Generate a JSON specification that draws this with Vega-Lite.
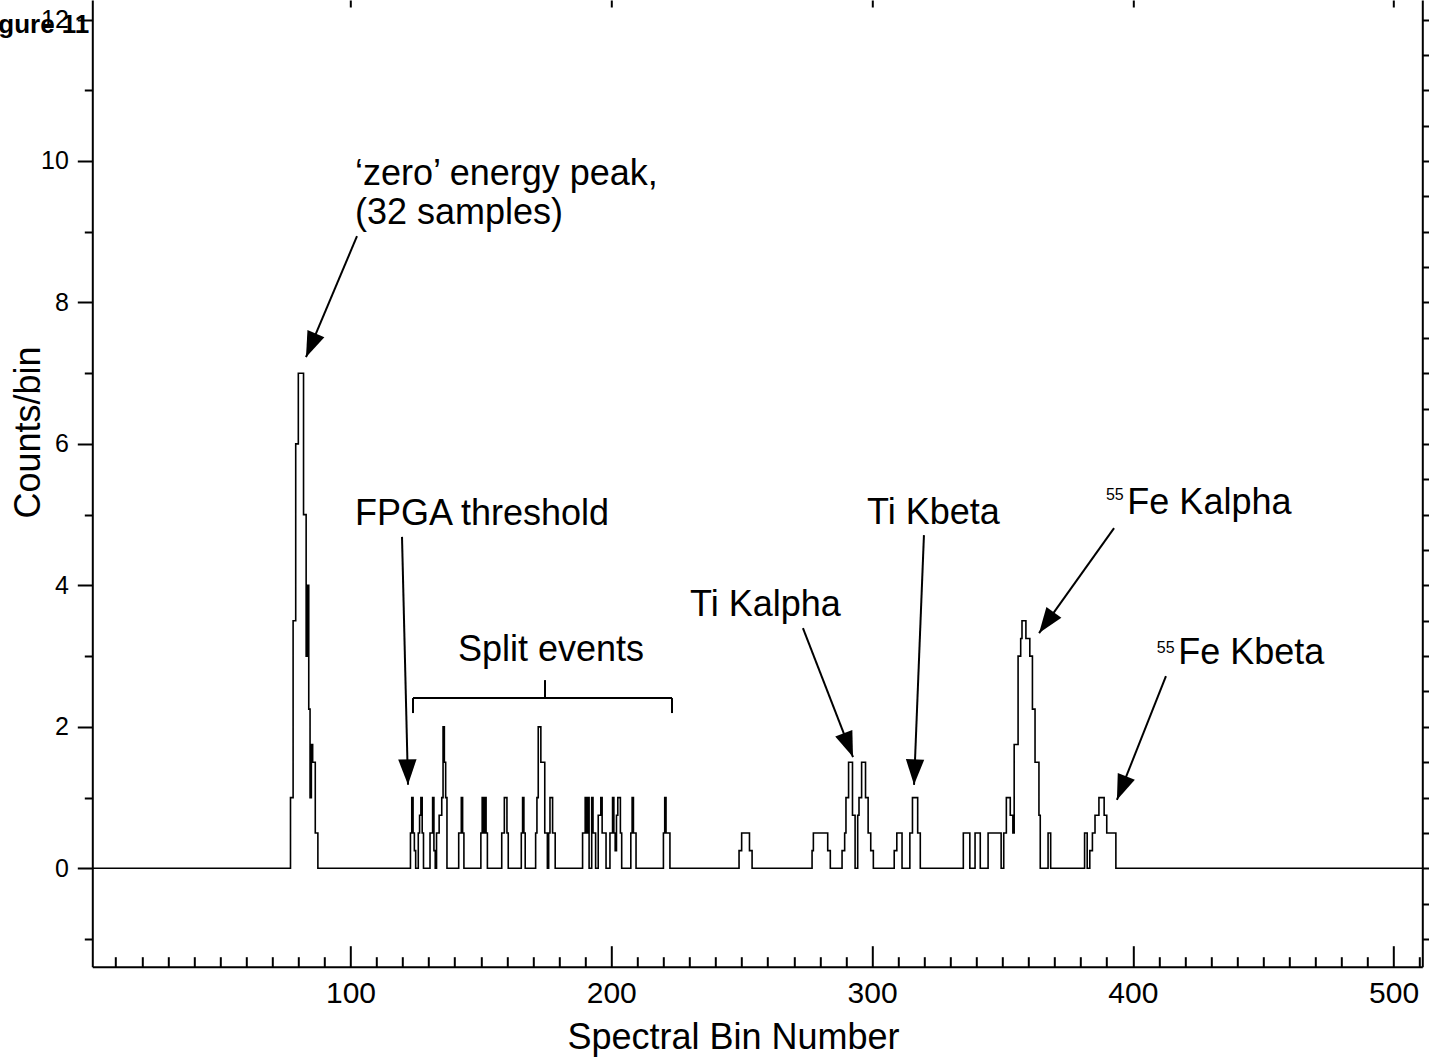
{
  "$schema": "https://vega.github.io/schema/vega-lite/v6.json",
  "width": 1330,
  "height": 966.7,
  "autosize": {"type": "none"},
  "padding": {"left": 92.3, "top": 0, "right": 6.7, "bottom": 94.3},
  "background": "white",
  "view": {"stroke": null},
  "config": {"font": "Liberation Sans", "axis": {"labelFont": "Liberation Sans", "titleFont": "Liberation Sans", "labelColor": "black", "titleColor": "black", "tickColor": "black", "domainColor": "black", "grid": false, "labelOverlap": false, "labelFlush": false, "labelBound": false, "tickWidth": 2, "domainWidth": 2}},
  "datasets": {
    "spectrum": [
      {"bin": 1, "counts": 0},
      {"bin": 77, "counts": 1}, {"bin": 78, "counts": 3.5}, {"bin": 79, "counts": 6}, {"bin": 80, "counts": 7}, {"bin": 82, "counts": 5}, {"bin": 83, "counts": 3}, {"bin": 83.5, "counts": 4}, {"bin": 84, "counts": 2.25}, {"bin": 84.5, "counts": 1}, {"bin": 85, "counts": 1.75}, {"bin": 85.5, "counts": 1.5}, {"bin": 86.5, "counts": 0.5}, {"bin": 87.5, "counts": 0},
      {"bin": 123, "counts": 0.5}, {"bin": 123.5, "counts": 1}, {"bin": 124, "counts": 0.5}, {"bin": 124.5, "counts": 0.25}, {"bin": 125, "counts": 0},
      {"bin": 126, "counts": 0.5}, {"bin": 126.5, "counts": 0.75}, {"bin": 127, "counts": 1}, {"bin": 127.5, "counts": 0.5}, {"bin": 128, "counts": 0},
      {"bin": 130.5, "counts": 0.5}, {"bin": 131.5, "counts": 1}, {"bin": 132, "counts": 0.25}, {"bin": 132.5, "counts": 0},
      {"bin": 133, "counts": 0.5}, {"bin": 134, "counts": 0.75}, {"bin": 135, "counts": 1}, {"bin": 135.5, "counts": 2}, {"bin": 136, "counts": 1.5}, {"bin": 136.5, "counts": 1}, {"bin": 137, "counts": 0},
      {"bin": 141.5, "counts": 0.5}, {"bin": 142.5, "counts": 1}, {"bin": 143, "counts": 0.5}, {"bin": 143.5, "counts": 0},
      {"bin": 150, "counts": 0.5}, {"bin": 150.5, "counts": 1}, {"bin": 151, "counts": 0.5}, {"bin": 151.5, "counts": 1}, {"bin": 152, "counts": 0.5}, {"bin": 152.5, "counts": 0},
      {"bin": 158, "counts": 0.5}, {"bin": 159, "counts": 1}, {"bin": 160, "counts": 0.5}, {"bin": 160.5, "counts": 0},
      {"bin": 165.5, "counts": 0.5}, {"bin": 166, "counts": 1}, {"bin": 166.5, "counts": 0.5}, {"bin": 167, "counts": 0},
      {"bin": 171, "counts": 0.5}, {"bin": 171.5, "counts": 1}, {"bin": 172, "counts": 2}, {"bin": 173, "counts": 1.5}, {"bin": 174.5, "counts": 0.5}, {"bin": 175.5, "counts": 0}, {"bin": 176, "counts": 0.5}, {"bin": 176.5, "counts": 1}, {"bin": 177.5, "counts": 0.5}, {"bin": 178.5, "counts": 0},
      {"bin": 189, "counts": 0.5}, {"bin": 190, "counts": 1}, {"bin": 190.5, "counts": 0.5}, {"bin": 191, "counts": 1}, {"bin": 191.5, "counts": 0}, {"bin": 192.5, "counts": 1}, {"bin": 193, "counts": 0.5}, {"bin": 194, "counts": 0}, {"bin": 195, "counts": 0.75}, {"bin": 196, "counts": 1}, {"bin": 196.5, "counts": 0.5}, {"bin": 198, "counts": 0},
      {"bin": 199.5, "counts": 0.5}, {"bin": 200.5, "counts": 1}, {"bin": 201, "counts": 0.5}, {"bin": 201.5, "counts": 0.25}, {"bin": 202, "counts": 0.75}, {"bin": 202.5, "counts": 1}, {"bin": 203.5, "counts": 0.5}, {"bin": 204, "counts": 0},
      {"bin": 207.5, "counts": 0.5}, {"bin": 208, "counts": 1}, {"bin": 208.5, "counts": 0.5}, {"bin": 209.5, "counts": 0},
      {"bin": 220, "counts": 0.5}, {"bin": 220.5, "counts": 1}, {"bin": 221, "counts": 0.5}, {"bin": 222.5, "counts": 0},
      {"bin": 249, "counts": 0.25}, {"bin": 250, "counts": 0.5}, {"bin": 253, "counts": 0.25}, {"bin": 254, "counts": 0},
      {"bin": 277, "counts": 0.25}, {"bin": 277.5, "counts": 0.5}, {"bin": 283, "counts": 0.25}, {"bin": 284, "counts": 0},
      {"bin": 288.5, "counts": 0.25}, {"bin": 289.5, "counts": 0.5}, {"bin": 290, "counts": 1}, {"bin": 291, "counts": 1.5}, {"bin": 292.5, "counts": 0.75}, {"bin": 293.5, "counts": 0}, {"bin": 294.5, "counts": 0.75}, {"bin": 295, "counts": 1}, {"bin": 296, "counts": 1.5}, {"bin": 297.5, "counts": 1}, {"bin": 298.5, "counts": 0.5}, {"bin": 299.5, "counts": 0.25}, {"bin": 300.5, "counts": 0},
      {"bin": 308.5, "counts": 0.25}, {"bin": 309.5, "counts": 0.5}, {"bin": 311.5, "counts": 0},
      {"bin": 314.5, "counts": 0.5}, {"bin": 315.5, "counts": 1}, {"bin": 317.5, "counts": 0.5}, {"bin": 318.5, "counts": 0},
      {"bin": 335, "counts": 0.5}, {"bin": 337.5, "counts": 0}, {"bin": 339.5, "counts": 0.5}, {"bin": 341.5, "counts": 0},
      {"bin": 344.5, "counts": 0.5}, {"bin": 349.5, "counts": 0}, {"bin": 350.5, "counts": 0.5}, {"bin": 351.5, "counts": 1}, {"bin": 353, "counts": 0.75}, {"bin": 354, "counts": 0.5}, {"bin": 354.5, "counts": 1.75}, {"bin": 356, "counts": 3}, {"bin": 357, "counts": 3.25}, {"bin": 357.5, "counts": 3.5}, {"bin": 359, "counts": 3.25}, {"bin": 360.5, "counts": 3}, {"bin": 361.5, "counts": 2.25}, {"bin": 362.5, "counts": 1.5}, {"bin": 364, "counts": 0.75}, {"bin": 364.5, "counts": 0},
      {"bin": 367.5, "counts": 0.5}, {"bin": 368.5, "counts": 0},
      {"bin": 381.5, "counts": 0.5}, {"bin": 382.5, "counts": 0}, {"bin": 383.5, "counts": 0.25}, {"bin": 384.5, "counts": 0.5}, {"bin": 385.5, "counts": 0.75}, {"bin": 387, "counts": 1}, {"bin": 389, "counts": 0.75}, {"bin": 390, "counts": 0.5}, {"bin": 393.5, "counts": 0},
      {"bin": 511, "counts": 0}
    ],
    "labels": [
      {"text": "‘zero’ energy peak,", "x": 101.74, "y": 9.658},
      {"text": "(32 samples)", "x": 101.74, "y": 9.107},
      {"text": "FPGA threshold", "x": 101.74, "y": 4.852},
      {"text": "Split events", "x": 141.24, "y": 2.93},
      {"text": "Ti Kalpha", "x": 230.2, "y": 3.566},
      {"text": "Ti Kbeta", "x": 298.1, "y": 4.866},
      {"text": "Fe Kalpha", "x": 397.9, "y": 5.008},
      {"text": "Fe Kbeta", "x": 417.4, "y": 2.891}
    ],
    "supers": [
      {"text": "55", "x": 389.7, "y": 5.206},
      {"text": "55", "x": 409.2, "y": 3.043}
    ],
    "arrows": [
      {"sx": 102.5, "sy": 8.937, "tx": 82.95, "ty": 7.227},
      {"sx": 119.76, "sy": 4.686, "tx": 122.06, "ty": 1.18},
      {"sx": 273.5, "sy": 3.397, "tx": 292.7, "ty": 1.573},
      {"sx": 319.9, "sy": 4.711, "tx": 316.1, "ty": 1.18},
      {"sx": 392.8, "sy": 4.81, "tx": 364.05, "ty": 3.326},
      {"sx": 412.7, "sy": 2.718, "tx": 393.9, "ty": 0.966}
    ],
    "bracket": [
      {"x1": 123.98, "y1": 2.407, "x2": 223.3, "y2": 2.407},
      {"x1": 123.98, "y1": 2.407, "x2": 123.98, "y2": 2.195},
      {"x1": 223.3, "y1": 2.407, "x2": 223.3, "y2": 2.195},
      {"x1": 174.6, "y1": 2.407, "x2": 174.6, "y2": 2.661}
    ],
    "fig": [{"text": "Figure 11", "x": -0.15, "y": 11.806}]
  },
  "layer": [
    {
      "data": {"name": "spectrum"},
      "mark": {"type": "line", "interpolate": "step-after", "color": "black", "strokeWidth": 1.6},
      "encoding": {
        "x": {"field": "bin", "type": "quantitative", "scale": {"domain": [1, 511], "nice": false, "zero": false},
          "axis": {"orient": "bottom", "values": [10,20,30,40,50,60,70,80,90,100,110,120,130,140,150,160,170,180,190,200,210,220,230,240,250,260,270,280,290,300,310,320,330,340,350,360,370,380,390,400,410,420,430,440,450,460,470,480,490,500,510],
            "format": "d", "labelExpr": "datum.value % 100 === 0 ? datum.label : ''",
            "tickSize": {"condition": {"test": "datum.value % 100 === 0", "value": -21}, "value": -10},
            "labelPadding": 33, "labelFontSize": 30,
            "title": "Spectral Bin Number", "titleFontSize": 36, "titleFontWeight": "normal", "titleX": 640.7, "titleY": 71, "titleAlign": "center", "titleBaseline": "middle"}},
        "y": {"field": "counts", "type": "quantitative", "scale": {"domain": [-1.391, 12.276], "nice": false, "zero": false},
          "axis": {"orient": "left", "values": [-1,-0.5,0,0.5,1,1.5,2,2.5,3,3.5,4,4.5,5,5.5,6,6.5,7,7.5,8,8.5,9,9.5,10,10.5,11,11.5,12],
            "format": "d", "labelExpr": "datum.value >= 0 && datum.value % 2 === 0 ? datum.label : ''",
            "tickSize": {"condition": {"test": "datum.value % 2 === 0", "value": 15}, "value": 8},
            "labelPadding": 9, "labelFontSize": 25,
            "title": "Counts/bin", "titleFontSize": 36, "titleFontWeight": "normal", "titleX": -64, "titleY": 432, "titleAngle": -90, "titleAlign": "center", "titleBaseline": "middle"}}
      }
    },
    {
      "data": {"name": "labels"},
      "mark": {"type": "text", "align": "left", "baseline": "alphabetic", "fontSize": 36, "font": "Liberation Sans", "color": "black"},
      "encoding": {
        "x": {"field": "x", "type": "quantitative", "scale": {"domain": [1, 511], "nice": false, "zero": false},
          "axis": {"orient": "top", "values": [100,200,300,400,500], "labels": false, "domain": false, "tickSize": -7, "title": null}},
        "y": {"field": "y", "type": "quantitative", "scale": {"domain": [-1.391, 12.276], "nice": false, "zero": false},
          "axis": {"orient": "right", "values": [-1,-0.5,0,0.5,1,1.5,2,2.5,3,3.5,4,4.5,5,5.5,6,6.5,7,7.5,8,8.5,9,9.5,10,10.5,11,11.5,12],
            "labels": false, "title": null,
            "tickSize": {"condition": {"test": "datum.value % 2 === 0", "value": 15}, "value": 8}}},
        "text": {"field": "text"}
      }
    },
    {
      "data": {"name": "supers"},
      "mark": {"type": "text", "align": "left", "baseline": "alphabetic", "fontSize": 16, "font": "Liberation Sans", "color": "black"},
      "encoding": {
        "x": {"field": "x", "type": "quantitative", "scale": {"domain": [1, 511], "nice": false, "zero": false}, "axis": null},
        "y": {"field": "y", "type": "quantitative", "scale": {"domain": [-1.391, 12.276], "nice": false, "zero": false}, "axis": null},
        "text": {"field": "text"}
      }
    },
    {
      "data": {"name": "arrows"},
      "mark": {"type": "rule", "color": "black", "strokeWidth": 2},
      "encoding": {
        "x": {"field": "sx", "type": "quantitative", "scale": {"domain": [1, 511], "nice": false, "zero": false}, "axis": null},
        "y": {"field": "sy", "type": "quantitative", "scale": {"domain": [-1.391, 12.276], "nice": false, "zero": false}, "axis": null},
        "x2": {"field": "tx"},
        "y2": {"field": "ty"}
      }
    },
    {
      "data": {"name": "arrows"},
      "transform": [{"calculate": "atan2((datum.tx - datum.sx) * 2.6078, (datum.ty - datum.sy) * 70.75) * 180 / PI", "as": "ang"}],
      "mark": {"type": "point", "shape": "M0,0L-0.36,1L0.36,1Z", "filled": true, "color": "black", "opacity": 1, "size": 2600, "strokeWidth": 0},
      "encoding": {
        "x": {"field": "tx", "type": "quantitative", "scale": {"domain": [1, 511], "nice": false, "zero": false}, "axis": null},
        "y": {"field": "ty", "type": "quantitative", "scale": {"domain": [-1.391, 12.276], "nice": false, "zero": false}, "axis": null},
        "angle": {"field": "ang", "type": "quantitative", "scale": null}
      }
    },
    {
      "data": {"name": "bracket"},
      "mark": {"type": "rule", "color": "black", "strokeWidth": 2},
      "encoding": {
        "x": {"field": "x1", "type": "quantitative", "scale": {"domain": [1, 511], "nice": false, "zero": false}, "axis": null},
        "y": {"field": "y1", "type": "quantitative", "scale": {"domain": [-1.391, 12.276], "nice": false, "zero": false}, "axis": null},
        "x2": {"field": "x2"},
        "y2": {"field": "y2"}
      }
    },
    {
      "data": {"name": "fig"},
      "mark": {"type": "text", "align": "right", "baseline": "alphabetic", "fontSize": 26, "fontWeight": "bold", "font": "Liberation Sans", "color": "black"},
      "encoding": {
        "x": {"field": "x", "type": "quantitative", "scale": {"domain": [1, 511], "nice": false, "zero": false}, "axis": null},
        "y": {"field": "y", "type": "quantitative", "scale": {"domain": [-1.391, 12.276], "nice": false, "zero": false}, "axis": null},
        "text": {"field": "text"}
      }
    }
  ],
  "resolve": {"axis": {"x": "independent", "y": "independent"}}
}
